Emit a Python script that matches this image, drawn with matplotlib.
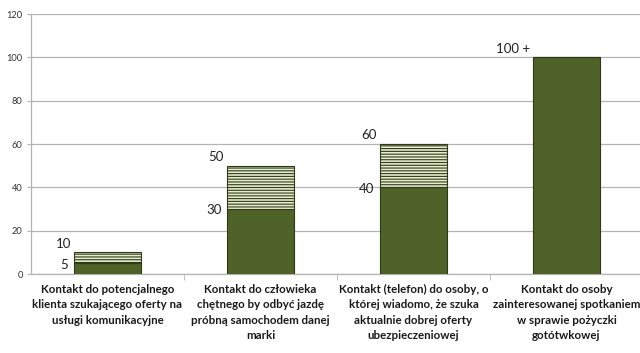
import matplotlib

matplotlib.use("Agg")
import matplotlib.pyplot as plt
import numpy as np

plt.rcParams["font.family"] = ["Lato", "DejaVu Sans"]
plt.rcParams["hatch.linewidth"] = 0.8

# ---------------------------------------------------------------------------
# Data
# ---------------------------------------------------------------------------
categories = [
    "Kontakt do potencjalnego\nklienta szukającego oferty na\nusługi komunikacyjne",
    "Kontakt do człowieka\nchętnego by odbyć jazdę\npróbną samochodem danej\nmarki",
    "Kontakt (telefon) do osoby, o\nktórej wiadomo, że szuka\naktualnie dobrej oferty\nubezpieczeniowej",
    "Kontakt do osoby\nzainteresowanej spotkaniem\nw sprawie pożyczki\ngotótwkowej",
]
low_values = [5, 30, 40, 100]
high_values = [10, 50, 60, 100]
low_labels = ["5", "30", "40", ""]
high_labels = ["10", "50", "60", "100 +"]
yticks = [0, 20, 40, 60, 80, 100, 120]

DARK = "#4F6228"
EDGE = "#2E3A17"
PALE = "#E6EDCF"
GRID = "#B4B4B4"

fig = plt.figure(figsize=(6.4, 3.53), dpi=100, facecolor="white")
ax = fig.add_axes([31 / 640, 79 / 353, 612 / 640, 260 / 353])

x = np.arange(len(categories))
width = 0.44
upper = np.array(high_values) - np.array(low_values)

ax.bar(x, low_values, width, color=DARK, edgecolor=EDGE, linewidth=0.8, zorder=3)
ax.bar(x, upper, width, bottom=low_values, color=PALE, edgecolor=EDGE,
       linewidth=0.8, hatch="------", zorder=3)

for i in range(len(categories)):
    left = x[i] - width / 2
    if low_labels[i]:
        ax.annotate(low_labels[i], (left, low_values[i]), xytext=(-4, -1),
                    textcoords="offset points", ha="right", va="center",
                    fontsize=9.5, color="#222222")
    ax.annotate(high_labels[i], (left, high_values[i]), xytext=(-2, 2),
                textcoords="offset points", ha="right", va="bottom",
                fontsize=9.5, color="#222222")

ax.set_xlim(-0.5, len(categories) - 0.5)
ax.set_ylim(0, 120)
ax.set_yticks(yticks)
ax.yaxis.grid(True, color=GRID, linewidth=0.9, zorder=0)
ax.set_axisbelow(True)

ax.set_xticks(x)
ax.set_xticklabels(categories, fontsize=8.3, fontweight="bold",
                   linespacing=1.49, color="#1a1a1a")
ax.tick_params(axis="x", which="major", length=0, pad=7)
ax.set_xticks(np.arange(0.5, len(categories) - 0.5, 1.0), minor=True)
ax.tick_params(axis="x", which="minor", length=4, color=GRID, direction="out")
ax.tick_params(axis="y", labelsize=6.7, length=3, color=GRID, labelcolor="#333333", pad=3)

for side in ("top", "right"):
    ax.spines[side].set_visible(False)
for side in ("left", "bottom"):
    ax.spines[side].set_color(GRID)
    ax.spines[side].set_linewidth(0.9)

fig.savefig("out.png", dpi=100, facecolor="white")
